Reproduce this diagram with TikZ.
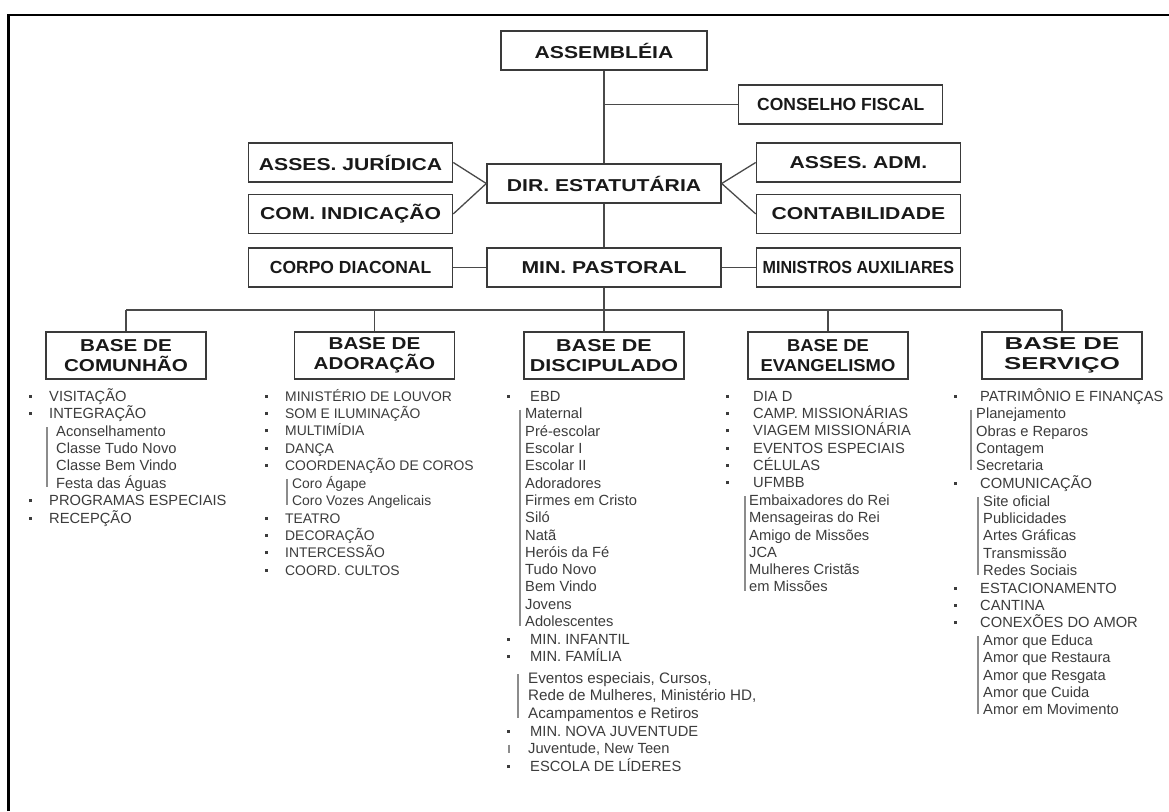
\documentclass[tikz,border=0pt]{standalone}
\usepackage{fontspec}
\setmainfont{Liberation Sans}
\newfontfamily\widefont{Liberation Sans}[FakeStretch=1.23]
\newfontfamily\narrowfont{Liberation Sans}[FakeStretch=0.92]
\usetikzlibrary{positioning}
\definecolor{boxline}{HTML}{3A3A3A}
\definecolor{wire}{HTML}{4A4A4A}
\definecolor{listgray}{HTML}{3C3C3C}
\definecolor{bargray}{HTML}{8C8C8C}
\newcommand\st{\rule[-.2\baselineskip]{0pt}{\baselineskip}}
\def\bugap{17.5pt}
\newcommand\bu{\st\llap{\rule[3.5pt]{3pt}{3pt}\hspace*{\bugap}}}

\begin{document}
\begin{tikzpicture}[
  x=1pt, y=-1pt,
  bigbox/.style={draw=boxline, line width=1.4pt, minimum width=204pt, minimum height=39pt, inner sep=0pt, text=black!90, font=\widefont\bfseries\fontsize{17.2}{19.5}\selectfont},
  midbox/.style={bigbox, font=\bfseries\fontsize{17.5}{19}\selectfont},
  basebox/.style={bigbox, minimum width=160pt, minimum height=47pt, align=center, font=\bfseries\fontsize{17.2}{19.5}\selectfont\addfontfeature{FakeStretch=#1}, execute at begin node={\lineskiplimit=-\maxdimen}},
  line/.style={draw=wire, line width=1.3pt},
  list/.style={anchor=north west, inner sep=0pt, align=left, text=listgray, font=\fontsize{14.7}{17.3}\selectfont, execute at begin node={\lineskiplimit=-\maxdimen\def\bugap{#1}}},
  list/.default=17.5pt,
  subbar/.style={draw=bargray, line width=1.8pt},
]
  \path[use as bounding box, fill=white] (0,0) rectangle (1169,811);
  \draw[line width=2.2pt] (8.5,811) -- (8.5,15) -- (1169,15);

  % Direction
  \node (assem) [bigbox, minimum width=206pt] at (604,50.5) {ASSEMBLÉIA};
  \node (cons) [midbox] at (840.75,104.5) {CONSELHO FISCAL};
  \node (dir) [bigbox, minimum width=234pt] at (604,183.5) {DIR. ESTATUTÁRIA};
  \node (jur) [bigbox, left=33pt of dir, yshift=21pt] {ASSES. JURÍDICA};
  \node (ind) [bigbox, below=11pt of jur] {COM. INDICAÇÃO};
  \node (adm) [bigbox, right=34pt of dir, yshift=21pt] {ASSES. ADM.};
  \node (cont) [bigbox, below=11pt of adm] {CONTABILIDADE};
  \node (minp) [bigbox, minimum width=234pt] at (604,267.5) {MIN. PASTORAL};
  \node (diac) [midbox, left=33pt of minp] {CORPO DIACONAL};
  \node (aux) [midbox, right=34pt of minp, font=\narrowfont\bfseries\fontsize{17.5}{19}\selectfont] {MINISTROS AUXILIARES};

  % Bases
  \node (comu) [basebox=1.2] at (126,355.5) {BASE DE\\COMUNHÃO};
  \node (ador) [basebox=1.2] at (374.5,355.5) {BASE DE\\ADORAÇÃO};
  \node (disc) [basebox=1.25] at (604,355.5) {BASE DE\\DISCIPULADO};
  \node (evan) [basebox=1.07] at (828,355.5) {BASE DE\\EVANGELISMO};
  \node (serv) [basebox=1.5] at (1062,355.5) {BASE DE\\SERVIÇO};

  % Connections
  \draw[line] (assem) -- (dir);
  \draw[line] (dir) -- (minp);
  \draw[line] (assem |- cons) -- (cons);
  \foreach \a in {jur,ind} \draw[line] (\a.east) -- (dir.west);
  \foreach \a in {adm,cont} \draw[line] (dir.east) -- (\a.west);
  \draw[line] (diac) -- (minp);
  \draw[line] (minp) -- (aux);
  \coordinate (bus) at (604,310);
  \draw[line] (minp) -- (bus);
  \draw[line] (comu.north |- bus) -- (serv.north |- bus);
  \foreach \b in {comu,ador,disc,evan,serv} \draw[line] (\b |- bus) -- (\b);

  % Comunhao
  \node (comA) [list] at (49,387.2) {\bu VISITAÇÃO\\\bu INTEGRAÇÃO};
  \node (comB) [list, below right=0pt and 7pt of comA.south west] {\st Aconselhamento\\\st Classe Tudo Novo\\\st Classe Bem Vindo\\\st Festa das Águas};
  \node (comC) [list, below right=0pt and -7pt of comB.south west] {\bu PROGRAMAS ESPECIAIS\\\bu RECEPÇÃO};

  % Adoracao
  \node (adoA) [list, font=\fontsize{13.9}{17.3}\selectfont] at (285,387.2) {\bu MINISTÉRIO DE LOUVOR\\\bu SOM E ILUMINAÇÃO\\\bu MULTIMÍDIA\\\bu DANÇA\\\bu COORDENAÇÃO DE COROS};
  \node (adoB) [list, font=\fontsize{13.9}{17.3}\selectfont, below right=0pt and 7pt of adoA.south west] {\st Coro Ágape\\\st Coro Vozes Angelicais};
  \node (adoC) [list, font=\fontsize{13.9}{17.3}\selectfont, below right=0pt and -7pt of adoB.south west] {\bu TEATRO\\\bu DECORAÇÃO\\\bu INTERCESSÃO\\\bu COORD. CULTOS};

  % Discipulado
  \node (disA) [list=20.5pt] at (530,387.2) {\bu EBD};
  \node (disB) [list, below right=0pt and -5pt of disA.south west] {\st Maternal\\\st Pré-escolar\\\st Escolar I\\\st Escolar II\\\st Adoradores\\\st Firmes em Cristo\\\st Siló\\\st Natã\\\st Heróis da Fé\\\st Tudo Novo\\\st Bem Vindo\\\st Jovens\\\st Adolescentes};
  \node (disC) [list=20.5pt, below right=0pt and 5pt of disB.south west] {\bu MIN. INFANTIL\\\bu MIN. FAMÍLIA};
  \node (disD) [list, font=\fontsize{15.2}{17.5}\selectfont, below right=4pt and -2pt of disC.south west] {\st Eventos especiais, Cursos,\\\st Rede de Mulheres, Ministério HD,\\\st Acampamentos e Retiros};
  \node (disE) [list=20.5pt, below right=0pt and 2pt of disD.south west] {\bu MIN. NOVA JUVENTUDE};
  \node (disF) [list, below right=0pt and -2pt of disE.south west] {\st Juventude, New Teen};
  \node (disG) [list=20.5pt, below right=0pt and 2pt of disF.south west] {\bu ESCOLA DE LÍDERES};

  % Evangelismo
  \node (evaA) [list=24.5pt] at (753,387.2) {\bu DIA D\\\bu CAMP. MISSIONÁRIAS\\\bu VIAGEM MISSIONÁRIA\\\bu EVENTOS ESPECIAIS\\\bu CÉLULAS\\\bu UFMBB};
  \node (evaB) [list, below right=0pt and -4pt of evaA.south west] {\st Embaixadores do Rei\\\st Mensageiras do Rei\\\st Amigo de Missões\\\st JCA\\\st Mulheres Cristãs\\\st em Missões};

  % Servico
  \node (serA) [list=23.5pt] at (980,387.2) {\bu PATRIMÔNIO E FINANÇAS};
  \node (serB) [list, below right=0pt and -4pt of serA.south west] {\st Planejamento\\\st Obras e Reparos\\\st Contagem\\\st Secretaria};
  \node (serC) [list=23.5pt, below right=0pt and 4pt of serB.south west] {\bu COMUNICAÇÃO};
  \node (serD) [list, below right=0pt and 3pt of serC.south west] {\st Site oficial\\\st Publicidades\\\st Artes Gráficas\\\st Transmissão\\\st Redes Sociais};
  \node (serE) [list=23.5pt, below right=0pt and -3pt of serD.south west] {\bu ESTACIONAMENTO\\\bu CANTINA\\\bu CONEXÕES DO AMOR};
  \node (serF) [list, below right=0pt and 3pt of serE.south west] {\st Amor que Educa\\\st Amor que Restaura\\\st Amor que Resgata\\\st Amor que Cuida\\\st Amor em Movimento};

  % Sub-item bars
  \foreach \g/\dx in {comB/9, adoB/5, disB/5, disD/10, disF/19, evaB/4, serB/5, serD/5, serF/5}
    \draw[subbar] ([xshift=-\dx pt, yshift=-4.8pt]\g.north west) -- ([xshift=-\dx pt, yshift=4.5pt]\g.south west);

\end{tikzpicture}
\end{document}
